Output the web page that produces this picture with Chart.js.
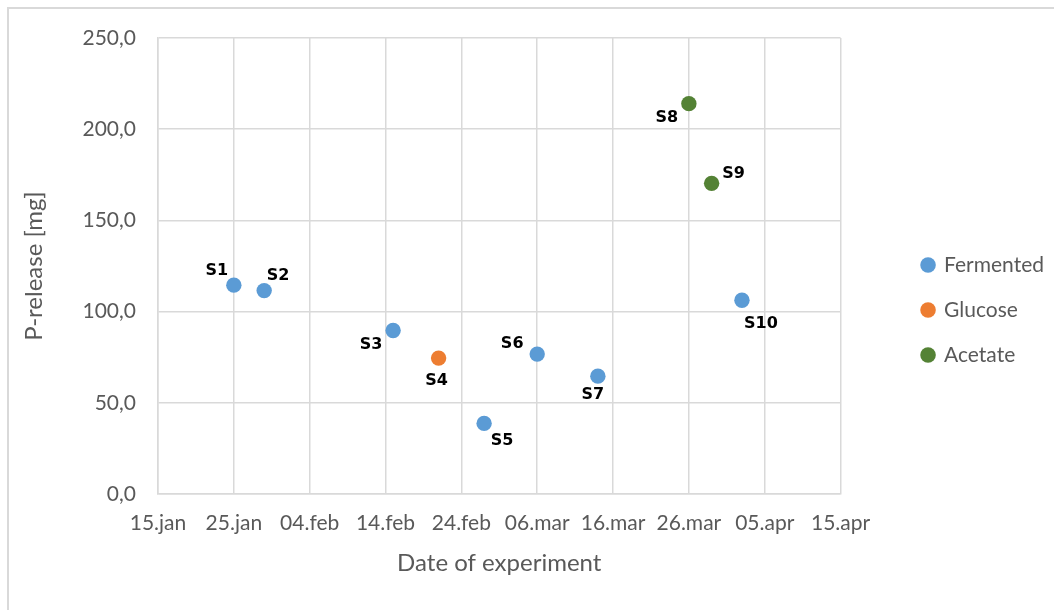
<!DOCTYPE html>
<html lang="en">
<head>
<meta charset="UTF-8">
<title>P-release per experiment</title>
<script src="https://cdn.jsdelivr.net/npm/chart.js"></script>
<style>
  html, body { margin: 0; padding: 0; overflow: hidden; background: #fff; }
  .frame {
    position: absolute; left: 7px; top: 7px;
    width: 1200px; height: 800px;
    border: 2px solid #d9d9d9;
  }
  #chart { position: absolute; left: 0; top: 0; }
</style>
</head>
<body>
<div class="frame"></div>
<canvas id="chart" width="1054" height="610"></canvas>
<script>
// data
const seriesNames = ['Fermented', 'Glucose', 'Acetate'];

const fermentedDates  = ['2019-01-25', '2019-01-29', '2019-02-15', '2019-02-27', '2019-03-06', '2019-03-14', '2019-04-02'];
const fermentedValues = [114.5, 111.5, 89.6, 38.7, 76.7, 64.6, 106.2];
const fermentedNames  = ['S1', 'S2', 'S3', 'S5', 'S6', 'S7', 'S10'];

const glucoseDates  = ['2019-02-21'];
const glucoseValues = [74.5];
const glucoseNames  = ['S4'];

const acetateDates  = ['2019-03-26', '2019-03-29'];
const acetateValues = [214.0, 170.3];
const acetateNames  = ['S8', 'S9'];

const axisStart = '2019-01-15';
const axisEnd   = '2019-04-15';
const tickStepDays = 10;
const monthNames = ['jan', 'feb', 'mar', 'apr', 'mai', 'jun', 'jul', 'aug', 'sep', 'okt', 'nov', 'des'];

// label placement around each point (style only)
const labelOffsets = {
  S1: [-17, -14], S2: [14, -15], S3: [-22, 14], S4: [-2, 23], S5: [18, 17],
  S6: [-25, -10], S7: [-5, 19], S8: [-22, 14], S9: [22, -10], S10: [19, 24]
};

const DAY = 24 * 3600 * 1000;
const t0 = Date.parse(axisStart);

function toDay(s) {
  return (Date.parse(s) - t0) / DAY;
}

function dayLabel(d) {
  const dt = new Date(t0 + d * DAY);
  const dd = String(dt.getUTCDate()).padStart(2, '0');
  return dd + '.' + monthNames[dt.getUTCMonth()];
}

function points(dates, values) {
  return dates.map((d, i) => ({ x: toDay(d), y: values[i] }));
}

const grey = '#595959';
const gridGrey = '#d9d9d9';
const fontFamily = 'Lato, "Open Sans", sans-serif';

const pointLabels = {
  id: 'pointLabels',
  afterDatasetsDraw(chart) {
    const ctx = chart.ctx;
    ctx.save();
    ctx.font = 'bold 16px "DejaVu Sans"';
    ctx.fillStyle = '#000';
    ctx.textAlign = 'center';
    ctx.textBaseline = 'middle';
    chart.data.datasets.forEach((ds, i) => {
      chart.getDatasetMeta(i).data.forEach((pt, j) => {
        const name = ds.pointNames[j];
        const off = labelOffsets[name] || [0, -16];
        ctx.fillText(name, pt.x + off[0], pt.y + off[1]);
      });
    });
    ctx.restore();
  }
};

const ctx = document.getElementById('chart').getContext('2d');
new Chart(ctx, {
  type: 'scatter',
  data: {
    datasets: [
      {
        label: seriesNames[0],
        data: points(fermentedDates, fermentedValues),
        pointNames: fermentedNames,
        backgroundColor: '#5b9bd5',
        borderColor: '#5b9bd5'
      },
      {
        label: seriesNames[1],
        data: points(glucoseDates, glucoseValues),
        pointNames: glucoseNames,
        backgroundColor: '#ed7d31',
        borderColor: '#ed7d31'
      },
      {
        label: seriesNames[2],
        data: points(acetateDates, acetateValues),
        pointNames: acetateNames,
        backgroundColor: '#548235',
        borderColor: '#548235'
      }
    ]
  },
  options: {
    responsive: false,
    animation: false,
    elements: {
      point: { radius: 7.7, hoverRadius: 7.7, borderWidth: 0, pointStyle: 'circle' }
    },
    layout: { padding: { top: 38, right: 0, bottom: 28, left: 0 } },
    plugins: {
      tooltip: { enabled: false },
      legend: {
        position: 'right',
        labels: {
          usePointStyle: true,
          boxWidth: 11,
          boxHeight: 11,
          padding: 24,
          color: grey,
          font: { family: fontFamily, size: 21 }
        }
      }
    },
    scales: {
      x: {
        type: 'linear',
        min: 0,
        max: toDay(axisEnd),
        afterFit(s) { s.height = 88; },
        ticks: {
          stepSize: tickStepDays,
          padding: 17,
          color: grey,
          font: { family: fontFamily, size: 21 },
          maxRotation: 0,
          callback: v => dayLabel(v)
        },
        grid: { color: gridGrey, lineWidth: 1.5, drawTicks: false },
        border: { color: gridGrey, width: 1.5 },
        title: {
          display: true,
          text: 'Date of experiment',
          color: grey,
          font: { family: fontFamily, size: 24 },
          padding: { top: 0, bottom: 4 }
        }
      },
      y: {
        min: 0,
        max: 250,
        afterFit(s) { s.width = 158; },
        ticks: {
          stepSize: 50,
          padding: 22,
          color: grey,
          font: { family: fontFamily, size: 21 },
          callback: v => v.toFixed(1).replace('.', ',')
        },
        grid: { color: gridGrey, lineWidth: 1.5, drawTicks: false },
        border: { color: gridGrey, width: 1.5 },
        title: {
          display: true,
          text: 'P-release [mg]',
          color: grey,
          font: { family: fontFamily, size: 24 },
          padding: { top: 20, bottom: 0 }
        }
      },
      gap: {
        // empty box between plot and legend
        position: 'right',
        afterFit(s) { s.width = 58; },
        ticks: { display: false },
        grid: { display: false },
        border: { display: false }
      }
    }
  },
  plugins: [pointLabels]
});
</script>
</body>
</html>
